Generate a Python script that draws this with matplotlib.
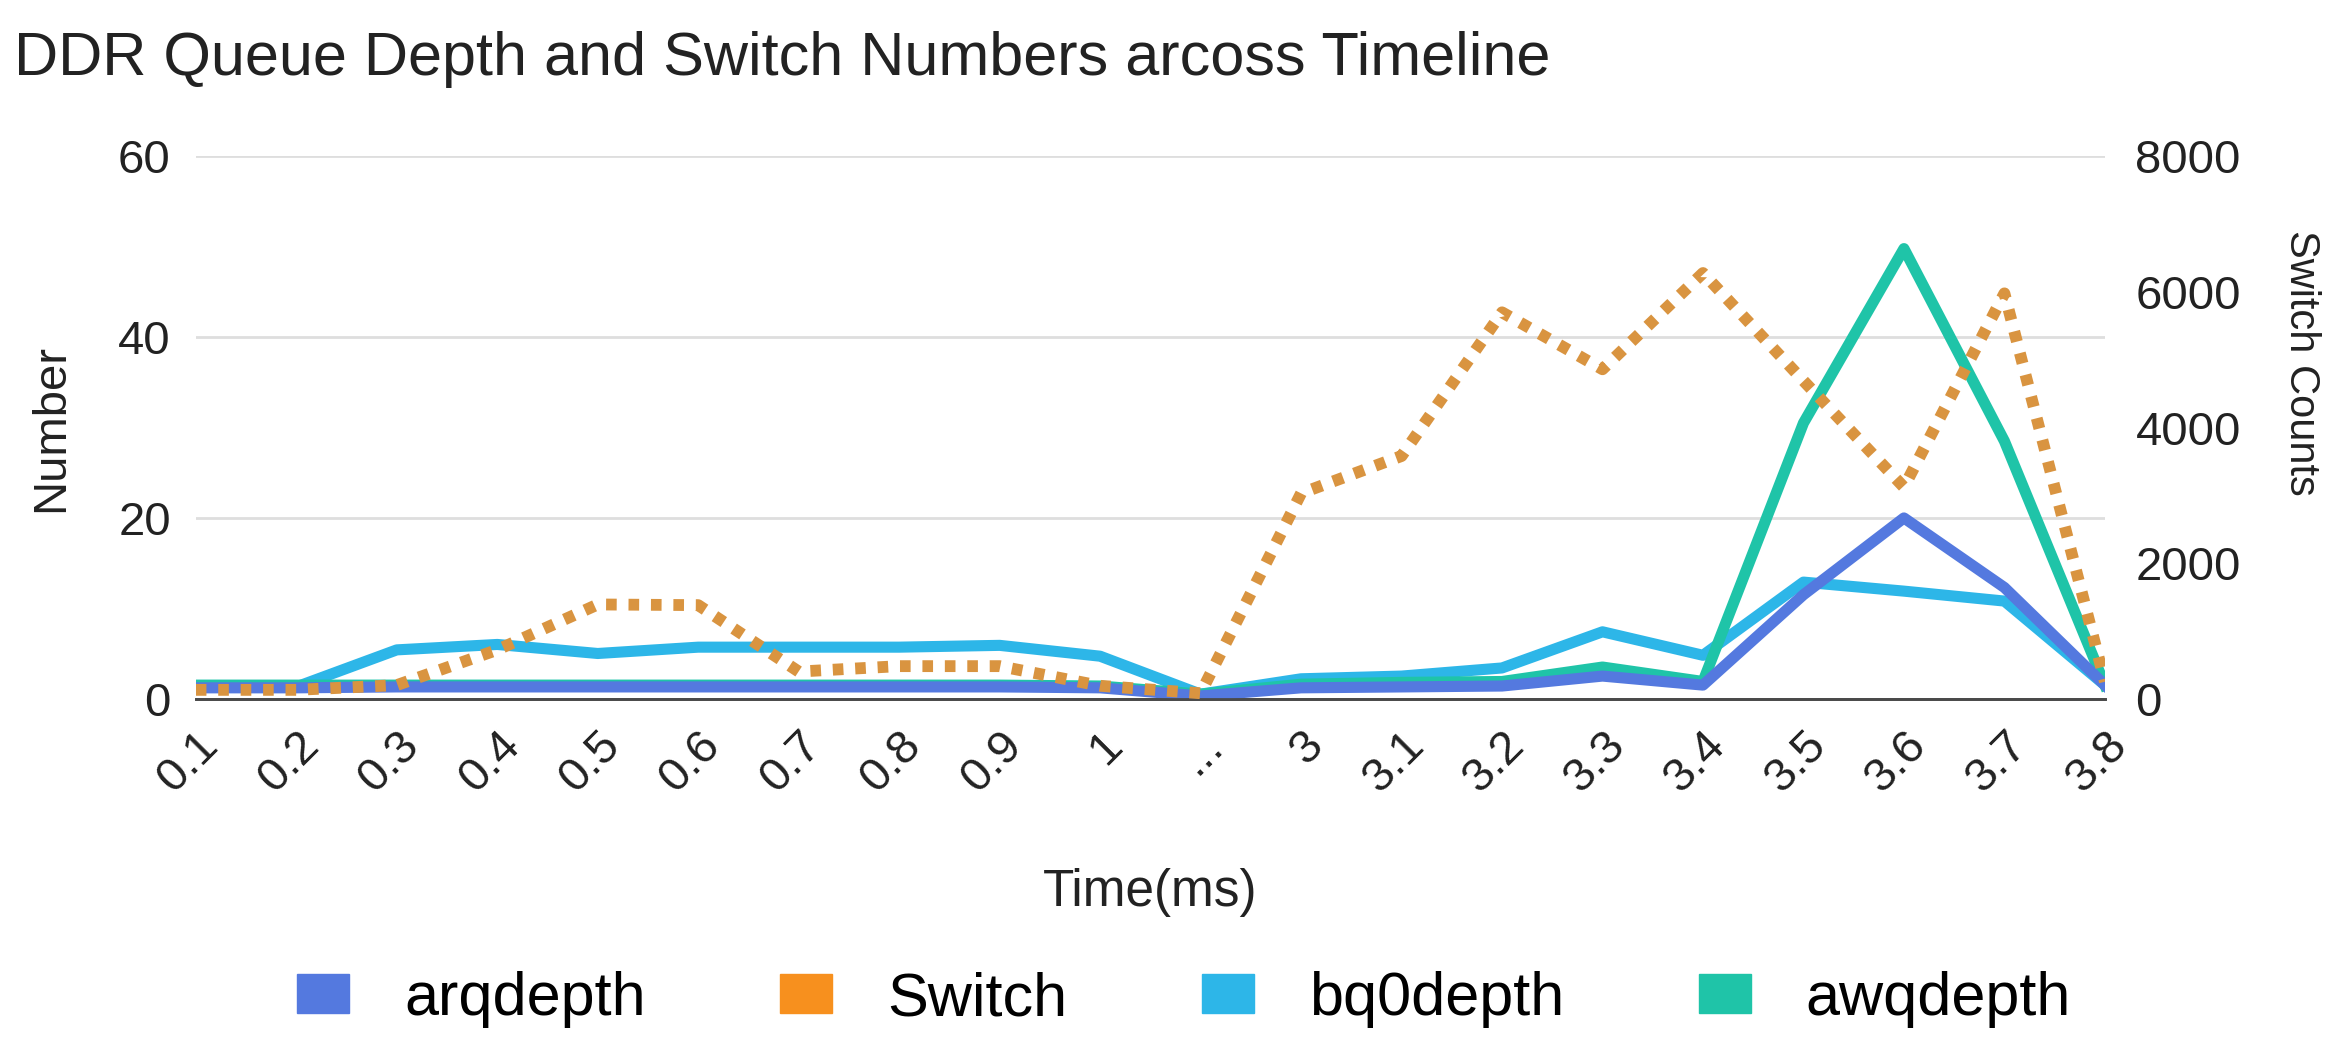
import numpy as np
import matplotlib.pyplot as plt
from matplotlib.patches import Patch

plt.rcParams['font.family'] = ['Liberation Sans', 'DejaVu Sans']

# time points along the x axis (the "..." marks skipped time)
time_labels = ['0.1', '0.2', '0.3', '0.4', '0.5', '0.6', '0.7', '0.8', '0.9', '1',
               '...', '3', '3.1', '3.2', '3.3', '3.4', '3.5', '3.6', '3.7', '3.8']

arqdepth = [1.2, 1.2, 1.3, 1.3, 1.3, 1.3, 1.3, 1.3, 1.3, 1.2,
            0.3, 1.2, 1.3, 1.4, 2.5, 1.5, 11.5, 20.0, 12.3, 1.5]
bq0depth = [1.3, 1.3, 5.4, 6.0, 5.0, 5.7, 5.7, 5.7, 5.9, 4.7,
            0.5, 2.2, 2.5, 3.4, 7.4, 4.8, 12.9, 11.9, 10.8, 1.5]
awqdepth = [1.5, 1.5, 1.5, 1.5, 1.5, 1.5, 1.5, 1.5, 1.5, 1.4,
            0.5, 1.6, 1.8, 1.9, 3.5, 1.9, 30.5, 49.8, 28.5, 1.5]
switch = [130, 130, 200, 720, 1390, 1380, 400, 480, 480, 190,
          80, 3030, 3580, 5700, 4860, 6280, 4690, 3120, 5980, 250]

c_arq = '#5479df'
c_switch = '#d99440'
c_switch_leg = '#f7901e'
c_bq0 = '#2db6e8'
c_awq = '#1fc4a8'

x = np.arange(len(time_labels))

fig = plt.figure(figsize=(23.31, 10.57), dpi=100)
ax = fig.add_axes([0.084, 0.339, 0.819, 0.513])
ax2 = ax.twinx()

ax.plot(x, awqdepth, color=c_awq, lw=8, zorder=3)
ax.plot(x, bq0depth, color=c_bq0, lw=8, zorder=2)
ax.plot(x, arqdepth, color=c_arq, lw=8, zorder=4)
ax2.plot(x, switch, color=c_switch, lw=8.5, ls=(0, (0.9, 1.0)), zorder=5)

ax.set_xlim(0, len(x) - 1)
ax.set_ylim(0, 60)
ax2.set_ylim(0, 8000)
ax.set_yticks([0, 20, 40, 60])
ax2.set_yticks([0, 2000, 4000, 6000, 8000])
ax.set_xticks(x)
ax.set_xticklabels(time_labels, rotation=45, ha='right', rotation_mode='anchor')

ax.grid(axis='y', color='#dedede', lw=2)
ax.set_axisbelow(True)
for a in (ax, ax2):
    for s in ('top', 'right', 'left'):
        a.spines[s].set_visible(False)
    a.spines['bottom'].set_color('#4a4a4a')
    a.spines['bottom'].set_linewidth(2)
    a.tick_params(length=0, labelsize=34, colors='#222222')
ax.tick_params(axis='y', pad=18)
ax.tick_params(axis='x', pad=18)
ax2.tick_params(axis='y', pad=22)
ax2.set_zorder(ax.get_zorder() + 1)
ax2.patch.set_visible(False)

ax.set_ylabel('Number', fontsize=34, color='#222222')
ax.yaxis.set_label_coords(-0.064, 0.5)
ax2.set_ylabel('Switch Counts', fontsize=30, color='#222222', rotation=270, va='center')
ax2.yaxis.set_label_coords(1.1026, 0.62)
ax.set_xlabel('Time(ms)', fontsize=37, color='#222222', labelpad=48)

fig.text(0.006, 0.944, 'DDR Queue Depth and Switch Numbers arcoss Timeline',
         fontsize=44, color='#222222', va='center', ha='left')

handles = [Patch(color=c_arq), Patch(color=c_switch_leg), Patch(color=c_bq0), Patch(color=c_awq)]
names = ['arqdepth', 'Switch', 'bq0depth', 'awqdepth']
fig.legend(handles, names, loc='center', bbox_to_anchor=(0.508, 0.054), ncol=4,
           frameon=False, fontsize=44, handlelength=0.85, handleheight=0.6,
           handletextpad=0.9, columnspacing=2.2)

fig.savefig('out.png', dpi=100, facecolor='white')
